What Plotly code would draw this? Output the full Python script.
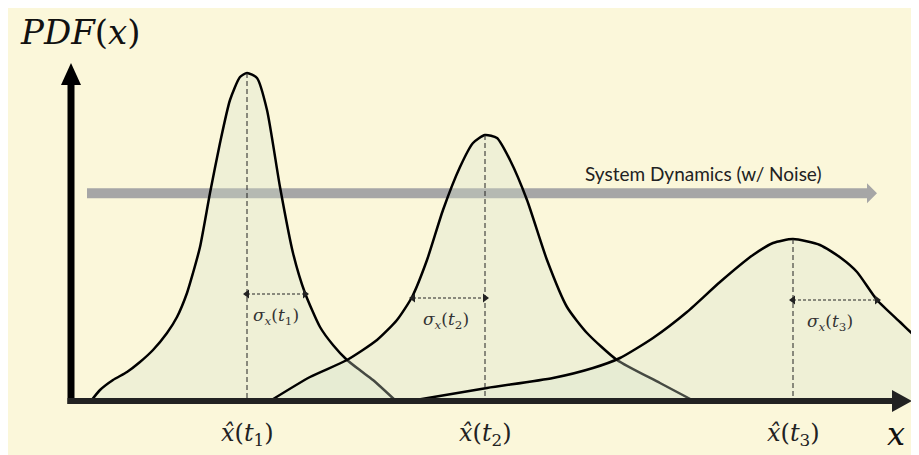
import plotly.graph_objects as go

# ---------------- data ----------------
curve1_x = [0.20, 0.29, 0.42, 0.56, 0.69, 0.82, 0.96, 1.06, 1.16, 1.22, 1.29, 1.39, 1.49, 1.59, 1.69, 1.76, 1.86, 1.96, 2.09, 2.22, 2.34, 2.49, 2.62, 2.76, 2.90, 3.02, 3.25]
curve1_y = [0.00, 0.11, 0.21, 0.29, 0.39, 0.51, 0.68, 0.84, 1.08, 1.28, 1.54, 2.08, 2.58, 3.01, 3.24, 3.28, 3.23, 2.91, 2.14, 1.48, 1.08, 0.74, 0.56, 0.41, 0.30, 0.21, 0.00]

curve2_x = [1.99, 2.39, 2.76, 3.06, 3.26, 3.41, 3.56, 3.72, 3.89, 4.02, 4.14, 4.26, 4.39, 4.56, 4.76, 4.96, 5.16, 5.46, 5.89, 6.23]
curve2_y = [0.00, 0.24, 0.41, 0.61, 0.81, 1.04, 1.41, 1.91, 2.34, 2.58, 2.66, 2.63, 2.41, 2.01, 1.41, 0.94, 0.68, 0.41, 0.18, 0.00]

curve3_x = [3.39, 4.16, 4.82, 5.22, 5.49, 5.82, 6.16, 6.49, 6.82, 7.02, 7.22, 7.49, 7.70, 7.86, 8.06, 8.29, 8.48, 8.69]
curve3_y = [0.00, 0.13, 0.23, 0.33, 0.43, 0.63, 0.89, 1.19, 1.46, 1.58, 1.62, 1.56, 1.43, 1.29, 1.01, 0.79, 0.61, 0.45]

means = [1.76, 4.14, 7.22]
peaks = [3.28, 2.66, 1.62]
sigma_ends = [2.34, 3.42, 8.06]      # other end of each sigma arrow
sigma_levels = [1.07, 1.03, 1.01]    # height of each sigma arrow

mean_labels = ["<i>x̂</i>(<i>t</i><sub>1</sub>)", "<i>x̂</i>(<i>t</i><sub>2</sub>)", "<i>x̂</i>(<i>t</i><sub>3</sub>)"]
sigma_labels = ["<i>σ</i><sub><i>x</i></sub>(<i>t</i><sub>1</sub>)",
                "<i>σ</i><sub><i>x</i></sub>(<i>t</i><sub>2</sub>)",
                "<i>σ</i><sub><i>x</i></sub>(<i>t</i><sub>3</sub>)"]
sigma_label_x = [2.05, 3.75, 7.59]
y_label = "<i>PDF</i>(<i>x</i>)"
x_label = "<i>x</i>"
dyn_label = "System Dynamics (w/ Noise)"

# ---------------- layout constants ----------------
BG = "rgb(251,247,218)"
FILL = "rgba(214,227,205,0.32)"
MATH_FONT = "DejaVu Serif"
X_RANGE = [-0.63, 8.48]
Y_RANGE = [-0.54, 3.93]

fig = go.Figure()

for cx, cy in [(curve1_x, curve1_y), (curve2_x, curve2_y), (curve3_x, curve3_y)]:
    fig.add_trace(go.Scatter(x=cx, y=cy, mode="lines", fill="tozeroy", fillcolor=FILL,
                             line=dict(color="black", width=2.5, shape="spline", smoothing=0.6),
                             hoverinfo="skip"))

# dashed mean lines
for m, p in zip(means, peaks):
    fig.add_trace(go.Scatter(x=[m, m], y=[p, 0], mode="lines",
                             line=dict(color="#222", width=1, dash="5px,3px"), hoverinfo="skip"))

# sigma arrows
for m, e, lv in zip(means, sigma_ends, sigma_levels):
    lo, hi = min(m, e), max(m, e)
    fig.add_trace(go.Scatter(x=[lo, hi], y=[lv, lv], mode="lines+markers",
                             line=dict(color="#222", width=1, dash="3px,2px"),
                             marker=dict(symbol=["triangle-left", "triangle-right"], size=8, color="#222",
                                         line=dict(width=0)),
                             hoverinfo="skip"))

shapes = []
# system dynamics arrow (below traces)
DYN_Y, DYN_X0, DYN_XB, DYN_XT, DYN_HH = 2.077, 0.16, 7.96, 8.06, 0.10
shapes.append(dict(type="line", layer="below", x0=DYN_X0, x1=DYN_XB, y0=DYN_Y, y1=DYN_Y,
                   line=dict(color="#A6A6A6", width=10)))
shapes.append(dict(type="path", layer="below",
                   path=f"M{DYN_XB},{DYN_Y+DYN_HH} L{DYN_XT},{DYN_Y} L{DYN_XB},{DYN_Y-DYN_HH} Z",
                   fillcolor="#A6A6A6", line=dict(width=0)))
# vertical axis
shapes.append(dict(type="line", layer="above", x0=0, x1=0, y0=-0.03, y1=3.16,
                   line=dict(color="black", width=7)))
shapes.append(dict(type="path", layer="above", path="M-0.10,3.16 L0,3.38 L0.10,3.16 Z",
                   fillcolor="black", line=dict(width=0)))
# horizontal axis
shapes.append(dict(type="line", layer="above", x0=-0.035, x1=8.21, y0=0, y1=0,
                   line=dict(color="#222", width=6)))
shapes.append(dict(type="path", layer="above", path="M8.21,0.11 L8.41,0 L8.21,-0.11 Z",
                   fillcolor="#222", line=dict(width=0)))

annotations = []
for m, t in zip(means, mean_labels):
    annotations.append(dict(x=m, y=-0.33, text=t, showarrow=False,
                            font=dict(family=MATH_FONT, size=24, color="#222")))
for sx, t, lv in zip(sigma_label_x, sigma_labels, sigma_levels):
    annotations.append(dict(x=sx, y=lv - 0.22, text=t, showarrow=False,
                            font=dict(family=MATH_FONT, size=17, color="#333")))
annotations.append(dict(x=-0.53, y=3.69, text=y_label, showarrow=False, xanchor="left",
                        font=dict(family=MATH_FONT, size=34, color="#111")))
annotations.append(dict(x=8.25, y=-0.33, text=x_label, showarrow=False,
                        font=dict(family=MATH_FONT, size=32, color="#111")))
annotations.append(dict(x=6.32, y=2.28, text=dyn_label, showarrow=False,
                        font=dict(family="Lato", size=19, color="#222")))

fig.update_layout(
    width=911, height=447, margin=dict(l=0, r=0, t=0, b=0),
    paper_bgcolor=BG, plot_bgcolor=BG, showlegend=False,
    xaxis=dict(range=X_RANGE, domain=[0, 1], visible=False, fixedrange=True),
    yaxis=dict(range=Y_RANGE, domain=[0, 1], visible=False, fixedrange=True),
    shapes=shapes, annotations=annotations,
)

fig.write_html("out.html")
